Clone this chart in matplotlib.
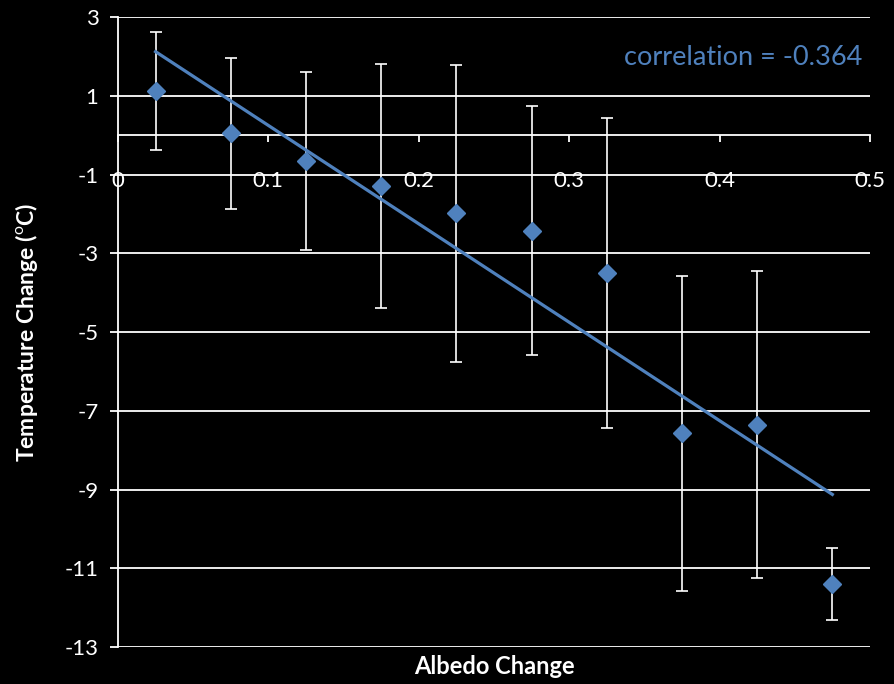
import numpy as np
import matplotlib
matplotlib.use("Agg")
import matplotlib.pyplot as plt

plt.rcParams['font.family'] = ['Lato', 'DejaVu Sans']
plt.rcParams['mathtext.fontset'] = 'custom'
plt.rcParams['mathtext.rm'] = 'Lato'

# data
albedo = [0.025, 0.075, 0.125, 0.175, 0.225, 0.275, 0.325, 0.375, 0.425, 0.475]
temp = [1.12, 0.05, -0.66, -1.29, -1.98, -2.43, -3.50, -7.57, -7.36, -11.40]
err = [1.50, 1.92, 2.26, 3.10, 3.77, 3.16, 3.94, 4.00, 3.90, 0.91]
corr_text = "correlation = -0.364"
yticks = [3, 1, -1, -3, -5, -7, -9, -11, -13]
xticks = [0, 0.1, 0.2, 0.3, 0.4, 0.5]

blue = '#4F81BD'

fig = plt.figure(figsize=(8.95, 6.84), dpi=100, facecolor='black')
ax = fig.add_axes([0.1318, 0.0541, 0.8402, 0.921])
ax.set_facecolor('black')

ax.errorbar(albedo, temp, yerr=err, fmt='none', ecolor='white', elinewidth=1.2,
            capsize=4.5, capthick=1.2, zorder=3)

# linear trend line
k, b = np.polyfit(albedo, temp, 1)
xs = np.array([albedo[0], albedo[-1]])
ax.plot(xs, k * xs + b, color=blue, lw=2.3, zorder=4)

ax.plot(albedo, temp, 'D', color=blue, ms=9.5, mec=blue, zorder=5, clip_on=False)

ax.set_xlim(0, 0.5)
ax.set_ylim(-13, 3)
ax.set_yticks(yticks)
ax.set_xticks(xticks)
ax.set_xticklabels(['0', '0.1', '0.2', '0.3', '0.4', '0.5'])
ax.set_yticklabels([str(v) for v in yticks])

ax.yaxis.grid(True, color='white', lw=1.3)
ax.set_axisbelow(True)

for s in ['top', 'right']:
    ax.spines[s].set_visible(False)
ax.spines['left'].set_color('white')
ax.spines['left'].set_linewidth(1.3)
ax.spines['bottom'].set_position(('data', 0))
ax.spines['bottom'].set_color('white')
ax.spines['bottom'].set_linewidth(1.3)

ax.tick_params(axis='y', colors='white', labelsize=16, length=6, width=1.3, pad=8)
ax.tick_params(axis='x', colors='white', labelsize=16, length=5, width=1.3, pad=21)

ax.set_xlabel('Albedo Change', color='white', fontsize=17, fontweight='bold')
ax.xaxis.set_label_coords(0.5, -0.012)
ax.set_ylabel(r'Temperature Change ($^{\mathrm{o}}$C)', color='white', fontsize=16.5,
              fontweight='bold')
ax.yaxis.set_label_coords(-0.104, 0.5)

ax.text(0.99, 0.935, corr_text, transform=ax.transAxes, ha='right', va='center',
        color=blue, fontsize=19.5)

fig.savefig('out.png', dpi=100, facecolor='black')
